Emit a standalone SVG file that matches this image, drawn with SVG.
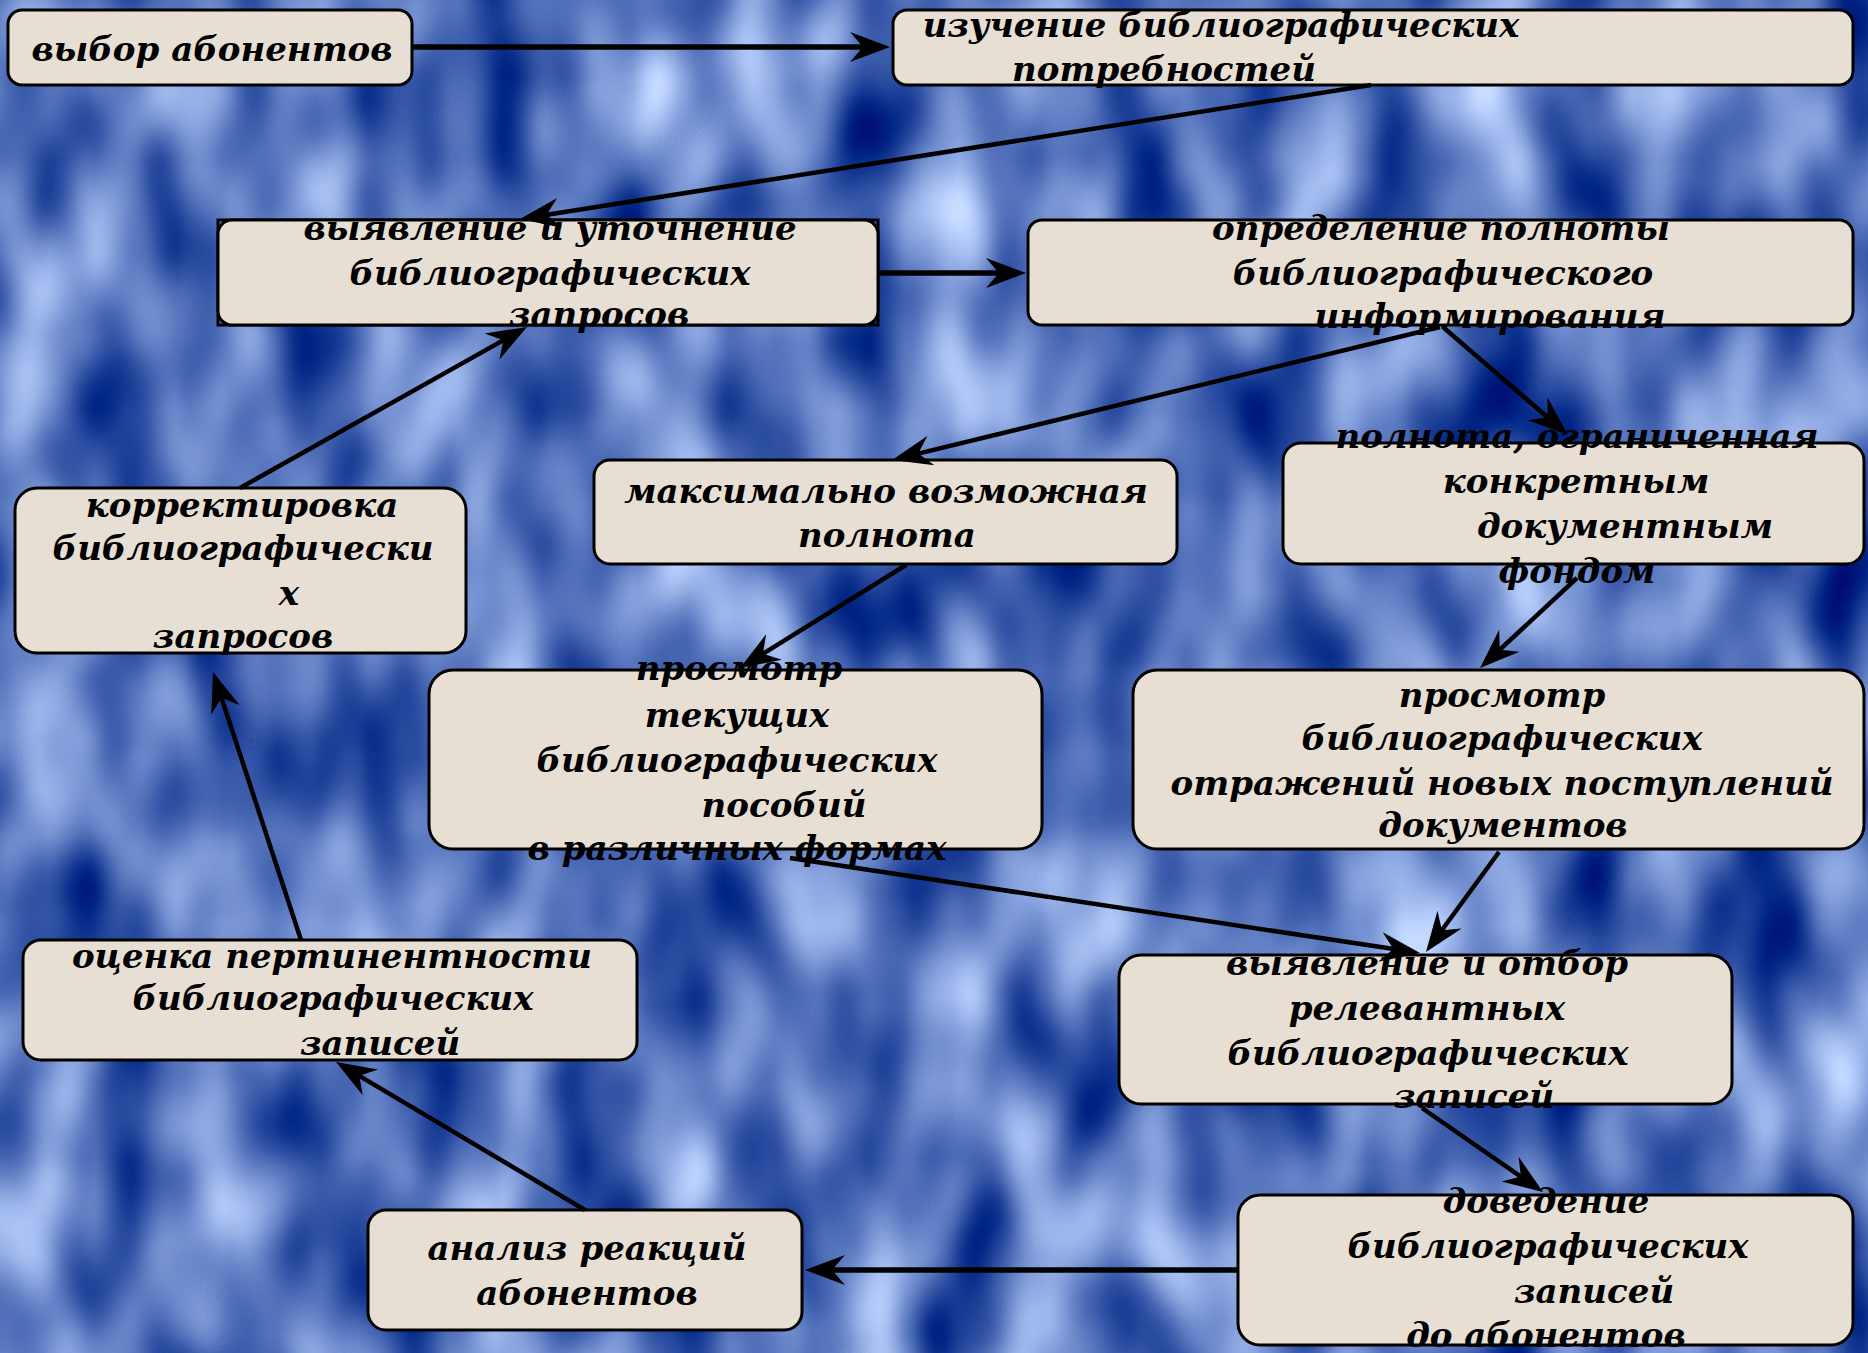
<svg xmlns="http://www.w3.org/2000/svg" width="1868" height="1353" viewBox="0 0 1868 1353">
<defs>
<filter id="bgf" filterUnits="userSpaceOnUse" x="0" y="0" width="1868" height="1353" color-interpolation-filters="sRGB">
<feTurbulence type="fractalNoise" baseFrequency="0.011 0.006" numOctaves="2" seed="7"/>
<feColorMatrix type="matrix" values="1.3 0 0 0 -0.32  1.2 0 0 0 -0.15  0.85 0 0 0 0.31  0 0 0 0 1"/>
</filter>
<marker id="ah" markerUnits="userSpaceOnUse" markerWidth="44" markerHeight="34" refX="34" refY="17" orient="auto" overflow="visible">
<path d="M42,17 L2,2 L15,17 L2,32 Z" fill="#000"/>
</marker>
<style>
.box{fill:#e7dfd3;stroke:#000;stroke-width:3}
.t{font-family:"DejaVu Serif","Liberation Serif",serif;font-weight:bold;font-style:italic;font-size:34px;fill:#000;text-anchor:middle}
.c{fill:none;stroke:#000;stroke-width:4.5;marker-end:url(#ah)}
.ch{stroke-width:5.5}
</style>
</defs>
<rect x="0" y="0" width="1868" height="1353" fill="#5a80c8"/>
<rect x="0" y="0" width="1868" height="1353" filter="url(#bgf)"/>

<g id="n1"><rect class="box" x="8" y="10" width="404" height="75" rx="14"/>
<text class="t" x="212" y="61">выбор абонентов</text></g>

<g id="n2"><rect class="box" x="893" y="10" width="960" height="75" rx="14"/>
<text class="t" x="1221" y="37">изучение библиографических</text>
<text class="t" x="1164" y="81">потребностей</text></g>

<g id="n3"><rect x="218" y="220" width="660" height="105" fill="none" stroke="#000" stroke-width="3"/>
<rect class="box" x="218" y="220" width="660" height="105" rx="14"/>
<text class="t" x="550" y="240">выявление и уточнение</text>
<text class="t" x="550" y="285">библиографических</text>
<text class="t" x="599" y="326">запросов</text></g>

<g id="n4"><rect class="box" x="1028" y="220" width="825" height="105" rx="14"/>
<text class="t" x="1441" y="240">определение полноты</text>
<text class="t" x="1443" y="285">библиографического</text>
<text class="t" x="1490" y="328">информирования</text></g>

<g id="n5"><rect class="box" x="15" y="488" width="451" height="165" rx="22"/>
<text class="t" x="242" y="517">корректировка</text>
<text class="t" x="243" y="560">библиографически</text>
<text class="t" x="289" y="605">х</text>
<text class="t" x="243" y="648">запросов</text></g>

<g id="n6"><rect class="box" x="594" y="460" width="583" height="104" rx="16"/>
<text class="t" x="886" y="503">максимально возможная</text>
<text class="t" x="887" y="547">полнота</text></g>

<g id="n7"><rect class="box" x="1283" y="443" width="581" height="121" rx="18"/>
<text class="t" x="1577" y="448">полнота, ограниченная</text>
<text class="t" x="1576" y="493">конкретным</text>
<text class="t" x="1625" y="538">документным</text>
<text class="t" x="1577" y="583">фондом</text></g>

<g id="n8"><rect class="box" x="429" y="670" width="613" height="179" rx="24"/>
<text class="t" x="739" y="680">просмотр</text>
<text class="t" x="737" y="727">текущих</text>
<text class="t" x="737" y="772">библиографических</text>
<text class="t" x="784" y="817">пособий</text>
<text class="t" x="737" y="860">в различных формах</text></g>

<g id="n9"><rect class="box" x="1133" y="670" width="731" height="179" rx="24"/>
<text class="t" x="1502" y="707">просмотр</text>
<text class="t" x="1502" y="750">библиографических</text>
<text class="t" x="1502" y="795">отражений новых поступлений</text>
<text class="t" x="1503" y="837">документов</text></g>

<g id="n10"><rect class="box" x="1119" y="955" width="613" height="149" rx="22"/>
<text class="t" x="1427" y="975">выявление и отбор</text>
<text class="t" x="1427" y="1020">релевантных</text>
<text class="t" x="1428" y="1065">библиографических</text>
<text class="t" x="1474" y="1108">записей</text></g>

<g id="n11"><rect class="box" x="1238" y="1195" width="615" height="150" rx="22"/>
<text class="t" x="1546" y="1213">доведение</text>
<text class="t" x="1548" y="1258">библиографических</text>
<text class="t" x="1594" y="1303">записей</text>
<text class="t" x="1546" y="1347">до абонентов</text></g>

<g id="n12"><rect class="box" x="23" y="940" width="614" height="120" rx="18"/>
<text class="t" x="332" y="968">оценка пертинентности</text>
<text class="t" x="333" y="1010">библиографических</text>
<text class="t" x="380" y="1055">записей</text></g>

<g id="n13"><rect class="box" x="368" y="1210" width="434" height="120" rx="18"/>
<text class="t" x="587" y="1260">анализ реакций</text>
<text class="t" x="587" y="1305">абонентов</text></g>

<g id="connectors">
<path class="c ch" d="M412,47 L882,47"/>
<path class="c" d="M1371,85 L527.9,217.8"/>
<path class="c ch" d="M878,273 L1018,273"/>
<path class="c" d="M1440,327 L899.8,458.1"/>
<path class="c" d="M1443,327 L1561.9,429.8"/>
<path class="c" d="M906,565 L746.8,663.8"/>
<path class="c" d="M1577,578 L1485.9,662.6"/>
<path class="c" d="M240,488 L520,330.9"/>
<path class="c" d="M1499,852 L1430.7,945.5"/>
<path class="c" d="M790,858 L1412.1,951.8"/>
<path class="c" d="M1422,1108 L1536.4,1187.4"/>
<path class="c ch" d="M1238,1270 L813,1270"/>
<path class="c" d="M585,1210 L342.9,1066.1"/>
<path class="c" d="M301,940 L215.5,679.6"/>
</g>
</svg>
